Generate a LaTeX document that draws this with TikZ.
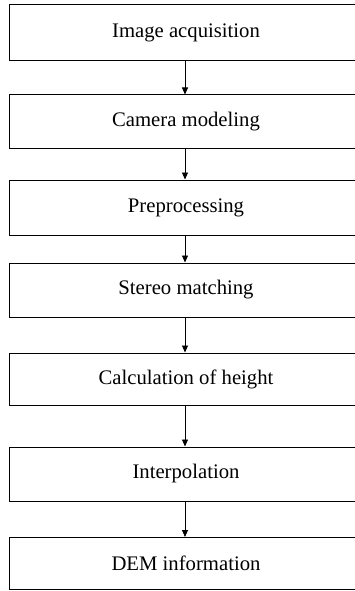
\documentclass[tikz,border=0pt]{standalone}
\usepackage{fontspec}
\setmainfont{Liberation Serif}
\usetikzlibrary{arrows.meta}
\begin{document}
\begin{tikzpicture}[x=1pt,y=-1pt,
  stepbox/.style={draw, line width=1pt, rectangle, minimum width=354pt, inner sep=0pt,
    font=\fontsize{20.7}{24}\selectfont},
  flow/.style={line width=0.9pt, -{Triangle[length=7pt,width=6pt]}}]
\useasboundingbox (0,0) rectangle (355,591);
\clip (0,0) rectangle (355,591);
\node[stepbox, minimum height=56pt] (a) at (186,33) {Image acquisition};
\node[stepbox, minimum height=53pt] (b) at (186,121.5) {Camera modeling};
\node[stepbox, minimum height=55pt] (c) at (186,207.5) {Preprocessing};
\node[stepbox, minimum height=54pt] (d) at (186,290) {Stereo matching};
\node[stepbox, minimum height=52pt] (e) at (186,379) {Calculation of height};
\node[stepbox, minimum height=54pt] (f) at (186,474) {Interpolation};
\node[stepbox, minimum height=52pt] (g) at (186,563.5) {DEM information};
\draw[flow] (a.south -| 185,0) -- (b.north -| 185,0);
\draw[flow] (b.south -| 185,0) -- (c.north -| 185,0);
\draw[flow] (c.south -| 185,0) -- (d.north -| 185,0);
\draw[flow] (d.south -| 185,0) -- (e.north -| 185,0);
\draw[flow] (e.south -| 185,0) -- (f.north -| 185,0);
\draw[flow] (f.south -| 185,0) -- (g.north -| 185,0);
\end{tikzpicture}
\end{document}
